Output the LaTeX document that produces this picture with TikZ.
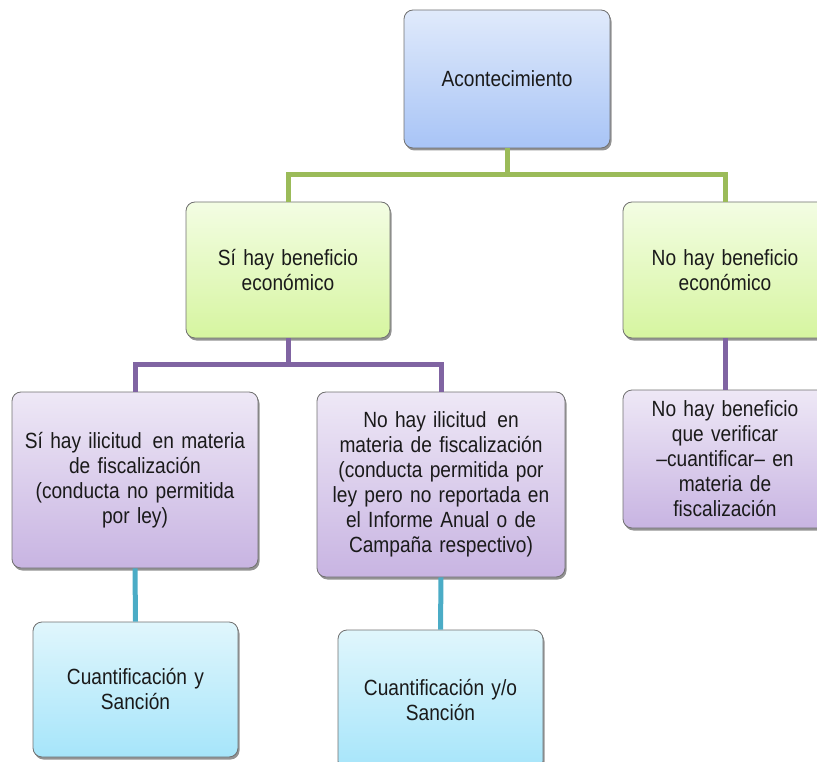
\documentclass[tikz,border=0pt]{standalone}
\usepackage{fontspec}
\setmainfont{Liberation Sans}[FakeStretch=0.87]
\usetikzlibrary{shadows}
\definecolor{boxedge}{HTML}{707070}
\definecolor{gline}{HTML}{9BBB59}
\definecolor{pline}{HTML}{8064A2}
\definecolor{cline}{HTML}{4BACC6}
\definecolor{blueT}{HTML}{E0EAFB}
\definecolor{blueB}{HTML}{A8C4F6}
\definecolor{greenT}{HTML}{F3FDE3}
\definecolor{greenB}{HTML}{D6F5A0}
\definecolor{purpT}{HTML}{EEE8F6}
\definecolor{purpB}{HTML}{C8B4E2}
\definecolor{cyanT}{HTML}{E0F6FC}
\definecolor{cyanB}{HTML}{A6E5FA}
\definecolor{txt}{HTML}{1A1A1A}
\begin{document}
\begin{tikzpicture}[x=1pt,y=-1pt,
  box/.style={draw=boxedge, line width=0.8pt, rounded corners=9pt, align=center,
    inner sep=0pt, text=txt, font=\fontsize{22}{25}\selectfont,
    drop shadow={shadow xshift=1.5pt, shadow yshift=-2.5pt, fill=black!50, opacity=0.85}},
  bluebox/.style={box, top color=blueT, bottom color=blueB},
  greenbox/.style={box, top color=greenT, bottom color=greenB},
  purpbox/.style={box, top color=purpT, bottom color=purpB},
  cyanbox/.style={box, top color=cyanT, bottom color=cyanB},
  conn/.style={line width=5pt},
]
\clip (0,0) rectangle (817,762);
\useasboundingbox (0,0) rectangle (817,762);

\node[bluebox, minimum width=206pt, minimum height=138pt, text width=196pt] (A) at (507,79) {Acontecimiento};

\node[greenbox, minimum width=204pt, minimum height=136pt, text width=194pt] (B1) at (288,270) {Sí hay beneficio\\económico};
\node[greenbox, minimum width=204pt, minimum height=136pt, text width=194pt] (B2) at (725,270) {No hay beneficio\\económico};

\node[purpbox, minimum width=246pt, minimum height=176pt, text width=236pt] (C1) at (135,480) {Sí hay ilicitud\, en materia\\de fiscalización\\(conducta no permitida\\por ley)};
\node[purpbox, minimum width=248pt, minimum height=185pt, text width=238pt] (C2) at (441,484.5) {No hay ilicitud\, en\\materia de fiscalización\\(conducta permitida por\\ley pero no reportada en\\el Informe Anual o de\\Campaña respectivo)};
\node[purpbox, minimum width=204pt, minimum height=138pt, text width=194pt] (C3) at (725,459) {No hay beneficio\\que verificar\\\textendash cuantificar\textendash\ en\\materia de\\fiscalización};

\node[cyanbox, minimum width=205pt, minimum height=135pt, text width=195pt] (D1) at (135.5,689.5) {Cuantificación y\\Sanción};
\node[cyanbox, minimum width=205pt, minimum height=140pt, text width=195pt] (D2) at (440.5,700) {Cuantificación y/o\\Sanción};

\draw[conn, gline] (A.south) -- ++(0,26) -| (B1.north);
\draw[conn, gline] (A.south) -- ++(0,26) -| (B2.north);
\draw[conn, pline] (B1.south) -- ++(0,26) -| (C1.north);
\draw[conn, pline] (B1.south) -- ++(0,26) -| (C2.north);
\draw[conn, pline] (B2.south) -- (C3.north);
\draw[conn, cline] (C1.south) -- (D1.north);
\draw[conn, cline] (C2.south) -- (D2.north);
\end{tikzpicture}
\end{document}
